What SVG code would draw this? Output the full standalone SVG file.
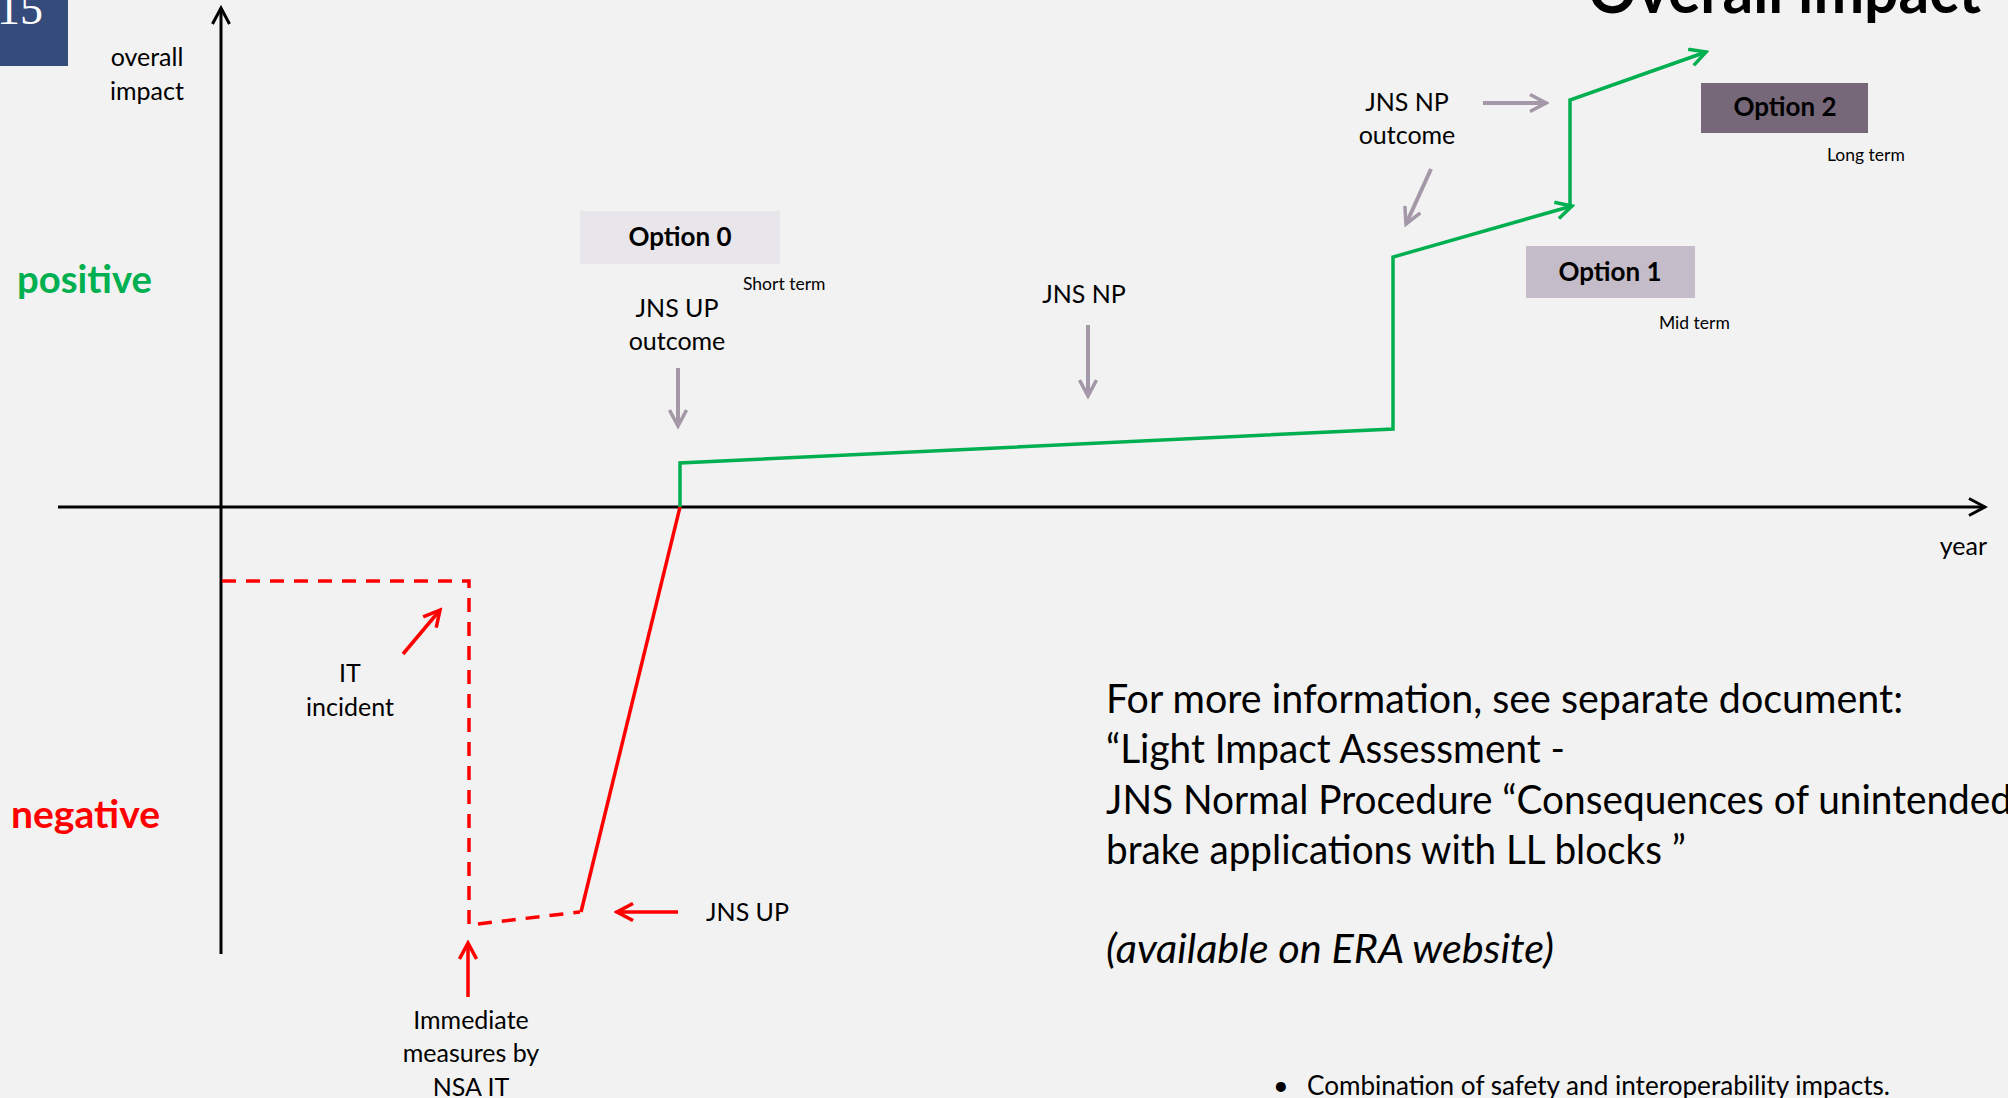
<svg xmlns="http://www.w3.org/2000/svg" width="2008" height="1098" viewBox="0 0 2008 1098">
<style>
text{font-family:Lato,"Open Sans","Liberation Sans",sans-serif;fill:#000}
.lbl{font-size:25px}
.c{text-anchor:middle}
.opt{font-size:26px;font-weight:bold}
.term{font-size:17.5px}
.para{font-size:41px}
.ax{stroke:#000;stroke-width:3;fill:none}
.gr{stroke:#a498a8;stroke-width:4;fill:none}
.rd{stroke:#ff0000;stroke-width:3.5;fill:none}
.gn{stroke:#00b050;stroke-width:3.5;fill:none;stroke-linejoin:miter}
.dash{stroke-dasharray:14 10}
</style>
<defs>
<marker id="mk" viewBox="0 0 20 20" refX="17" refY="10" markerWidth="20" markerHeight="20" markerUnits="userSpaceOnUse" orient="auto"><path d="M1,1.5 L17,10 L1,18.5" fill="none" stroke="#000" stroke-width="3"/></marker>
<marker id="mg" viewBox="0 0 20 20" refX="17" refY="10" markerWidth="20" markerHeight="20" markerUnits="userSpaceOnUse" orient="auto"><path d="M1,1.5 L17,10 L1,18.5" fill="none" stroke="#a498a8" stroke-width="3.5"/></marker>
<marker id="mr" viewBox="0 0 20 20" refX="17" refY="10" markerWidth="20" markerHeight="20" markerUnits="userSpaceOnUse" orient="auto"><path d="M1,1.5 L17,10 L1,18.5" fill="none" stroke="#ff0000" stroke-width="3.5"/></marker>
<marker id="mn" viewBox="0 0 20 20" refX="17" refY="10" markerWidth="20" markerHeight="20" markerUnits="userSpaceOnUse" orient="auto"><path d="M1,1.5 L17,10 L1,18.5" fill="none" stroke="#00b050" stroke-width="3.5"/></marker>
</defs>
<rect width="2008" height="1098" fill="#f2f2f2"/>

<g id="slide-number">
<rect x="0" y="0" width="68" height="66" fill="#344b7c"/>
<text x="-3" y="24" style="font-family:'Liberation Serif',serif;font-size:46px;fill:#fff">15</text>
</g>

<g id="title">
<text x="1588" y="13" textLength="393" lengthAdjust="spacingAndGlyphs" style="font-size:64px;font-weight:bold">Overall impact</text>
</g>

<g id="connectors">
<line class="ax" x1="221" y1="954" x2="221" y2="8" marker-end="url(#mk)"/>
<line class="ax" x1="58" y1="507" x2="1985" y2="507" marker-end="url(#mk)"/>
<path class="rd dash" d="M222,581 H469 V925 L580,912"/>
<path class="rd" d="M581,912 L680,507"/>
<path class="gn" d="M680,507 V463 L1393,429 V257 L1572,206" marker-end="url(#mn)"/>
<path class="gn" d="M1570,207 V100 L1706,52" marker-end="url(#mn)"/>
<line class="gr" x1="678" y1="368" x2="678" y2="426" marker-end="url(#mg)"/>
<line class="gr" x1="1088" y1="325" x2="1088" y2="396" marker-end="url(#mg)"/>
<line class="gr" x1="1483" y1="103" x2="1546" y2="103" marker-end="url(#mg)"/>
<line class="gr" x1="1431" y1="169" x2="1406" y2="224" marker-end="url(#mg)"/>
<line class="rd" x1="403" y1="654" x2="440" y2="610" marker-end="url(#mr)"/>
<line class="rd" x1="468" y1="997" x2="468" y2="943" marker-end="url(#mr)"/>
<line class="rd" x1="678" y1="912" x2="617" y2="912" marker-end="url(#mr)"/>
</g>

<g id="axis-labels">
<text class="lbl c" x="147" y="66">overall</text>
<text class="lbl c" x="147" y="100">impact</text>
<text class="lbl" x="1987" y="555" text-anchor="end">year</text>
<text x="17" y="293" textLength="135" lengthAdjust="spacingAndGlyphs" style="font-size:39px;font-weight:bold;fill:#00b050">positive</text>
<text x="11" y="828" textLength="149" lengthAdjust="spacingAndGlyphs" style="font-size:39px;font-weight:bold;fill:#ff0000">negative</text>
</g>

<g id="option-0">
<rect x="580" y="211" width="200" height="53" fill="#e8e6ea"/>
<text class="opt c" x="680" y="246">Option 0</text>
<text class="term" x="743" y="290">Short term</text>
</g>

<g id="option-1">
<rect x="1526" y="246" width="169" height="52" fill="#c4bcc8"/>
<text class="opt c" x="1610" y="281">Option 1</text>
<text class="term" x="1659" y="329">Mid term</text>
</g>

<g id="option-2">
<rect x="1701" y="83" width="167" height="50" fill="#776879"/>
<text class="opt c" x="1785" y="116">Option 2</text>
<text class="term" x="1827" y="161">Long term</text>
</g>

<g id="label-jns-up-outcome">
<text class="lbl c" x="677" y="317">JNS UP</text>
<text class="lbl c" x="677" y="350">outcome</text>
</g>

<g id="label-jns-np">
<text class="lbl c" x="1084" y="303">JNS NP</text>
</g>

<g id="label-jns-np-outcome">
<text class="lbl c" x="1407" y="111">JNS NP</text>
<text class="lbl c" x="1407" y="144">outcome</text>
</g>

<g id="label-it-incident">
<text class="lbl c" x="350" y="682">IT</text>
<text class="lbl c" x="350" y="716">incident</text>
</g>

<g id="label-jns-up">
<text class="lbl" x="706" y="921">JNS UP</text>
</g>

<g id="label-immediate">
<text class="lbl c" x="471" y="1029">Immediate</text>
<text class="lbl c" x="471" y="1062">measures by</text>
<text class="lbl c" x="471" y="1096">NSA IT</text>
</g>

<g id="info-text">
<text class="para" x="1106" y="713" textLength="797" lengthAdjust="spacingAndGlyphs">For more information, see separate document:</text>
<text class="para" x="1106" y="763" textLength="459" lengthAdjust="spacingAndGlyphs">“Light Impact Assessment -</text>
<text class="para" x="1106" y="814" textLength="906" lengthAdjust="spacingAndGlyphs">JNS Normal Procedure “Consequences of unintended</text>
<text class="para" x="1106" y="864" textLength="580" lengthAdjust="spacingAndGlyphs">brake applications with LL blocks ”</text>
<text class="para" x="1106" y="963" textLength="448" lengthAdjust="spacingAndGlyphs" font-style="italic">(available on ERA website)</text>
</g>

<g id="bullet">
<text x="1273" y="1095" style="font-size:27px">•</text>
<text x="1307" y="1095" textLength="583" lengthAdjust="spacingAndGlyphs" style="font-size:27px">Combination of safety and interoperability impacts.</text>
</g>
</svg>
